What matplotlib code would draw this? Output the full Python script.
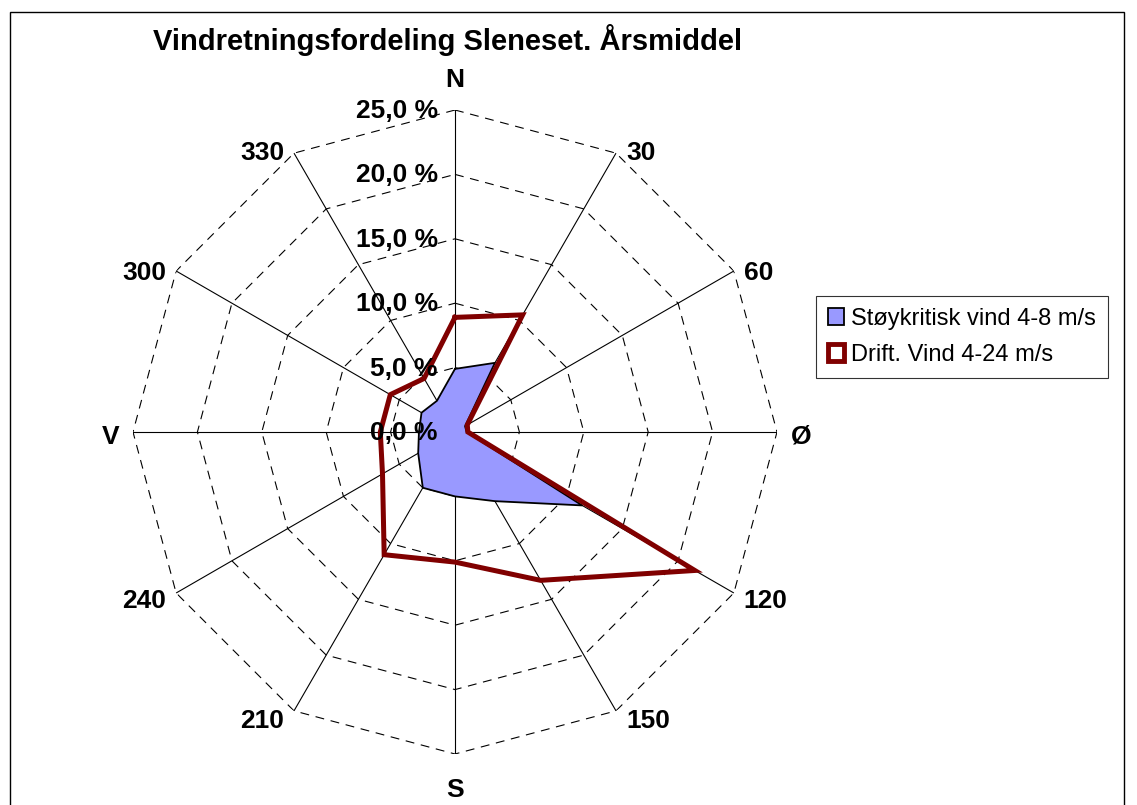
import numpy as np
import matplotlib
matplotlib.use("Agg")
import matplotlib.pyplot as plt
from matplotlib.patches import Patch, Rectangle
from matplotlib.transforms import offset_copy

plt.rcParams['font.family'] = ['Liberation Sans', 'DejaVu Sans']

# ---- data ----
directions = ["N", "30", "60", "Ø", "120", "150", "S", "210", "240", "V", "300", "330"]
stoy_vals = [4.9, 6.2, 0.9, 0.9, 11.4, 6.2, 5.0, 5.0, 3.3, 2.8, 3.0, 2.8]          # Støykritisk vind 4-8 m/s
drift_vals = [8.9, 10.5, 1.1, 1.0, 21.5, 13.3, 10.1, 11.0, 6.5, 5.8, 5.8, 4.8]     # Drift. Vind 4-24 m/s
r_ticks = [0, 5, 10, 15, 20, 25]
r_labels = ["0,0 %", "5,0 %", "10,0 %", "15,0 %", "20,0 %", "25,0 %"]
title = "Vindretningsfordeling Sleneset. Årsmiddel"
series_names = ["Støykritisk vind 4-8 m/s", "Drift. Vind 4-24 m/s"]

W, H = 1137, 805
fig = plt.figure(figsize=(W / 100, H / 100), dpi=100)
fig.patch.set_facecolor('white')

cx, cy, R = 455, 432, 322
ax = fig.add_axes([(cx - R) / W, (H - cy - R) / H, 2 * R / W, 2 * R / H], projection='polar')
ax.set_theta_zero_location('N')
ax.set_theta_direction(-1)
ax.set_ylim(0, r_ticks[-1])
ax.set_facecolor('none')
ax.spines['polar'].set_visible(False)

n = len(directions)
theta = np.linspace(0, 2 * np.pi, n, endpoint=False)
theta_c = np.append(theta, theta[0])

# grid: spokes solid, rings dashed polygons
ax.set_xticks(theta)
ax.set_xticklabels([])
ax.tick_params(axis='x', length=0)
ax.xaxis.grid(True, color='black', linewidth=0.8, linestyle='-')
ax.yaxis.grid(False)
ax.set_yticks([])
for r in r_ticks[1:]:
    ax.plot(theta_c, [r] * (n + 1), color='black', linewidth=0.8, dashes=(8, 6), zorder=1)

# direction labels placed next to spoke ends
rmax = r_ticks[-1]
for t, lab in zip(theta, directions):
    s, c = np.sin(t), np.cos(t)
    if abs(s) < 1e-6:
        ha, dx = 'center', 0
        dy = 30 if c > 0 else -36
    else:
        ha = 'left' if s > 0 else 'right'
        gap = 14 if abs(c) < 1e-6 else 10
        dx = gap * np.sign(s)
        dy = 6 * c - 5
    trl = offset_copy(ax.transData, fig=fig, x=dx, y=dy, units='dots')
    ax.text(t, rmax, lab, transform=trl, ha=ha, va='center', fontsize=19,
            fontweight='bold', clip_on=False)

# radial labels
tr = offset_copy(ax.transData, fig=fig, x=-17, y=-1, units='dots')
for r, lab in zip(r_ticks, r_labels):
    ax.text(0, r, lab, transform=tr, ha='right', va='center', fontsize=19,
            fontweight='bold', zorder=5)

# series
s_c = np.append(stoy_vals, stoy_vals[0])
d_c = np.append(drift_vals, drift_vals[0])
ax.fill(theta_c, s_c, facecolor='#9999FF', edgecolor='none', zorder=2)
ax.plot(theta_c, s_c, color='black', linewidth=1.3, zorder=3)
ax.plot(theta_c, d_c, color='#800000', linewidth=3.6, zorder=4, solid_joinstyle='miter')

# title
fig.text(448 / W, 1 - 40 / H, title, ha='center', va='center', fontsize=21, fontweight='bold')

# legend
handles = [Patch(facecolor='#9999FF', edgecolor='black', linewidth=1.3),
           Patch(facecolor='white', edgecolor='#800000', linewidth=3.5)]
leg = fig.legend(handles, series_names, loc='upper left',
                 bbox_to_anchor=(816 / W, 1 - 296 / H), borderaxespad=0,
                 fontsize=17, frameon=True, fancybox=False, handlelength=0.7,
                 handleheight=0.7, handletextpad=0.3, borderpad=0.5, labelspacing=0.6)
leg.get_frame().set_edgecolor('black')
leg.get_frame().set_linewidth(0.8)

# outer frame
fig.add_artist(Rectangle((10 / W, -0.05), (1124 - 10) / W, (H - 12) / H + 0.05,
                         transform=fig.transFigure, fill=False, edgecolor='black',
                         linewidth=1.0))

fig.savefig('out.png', dpi=100)
